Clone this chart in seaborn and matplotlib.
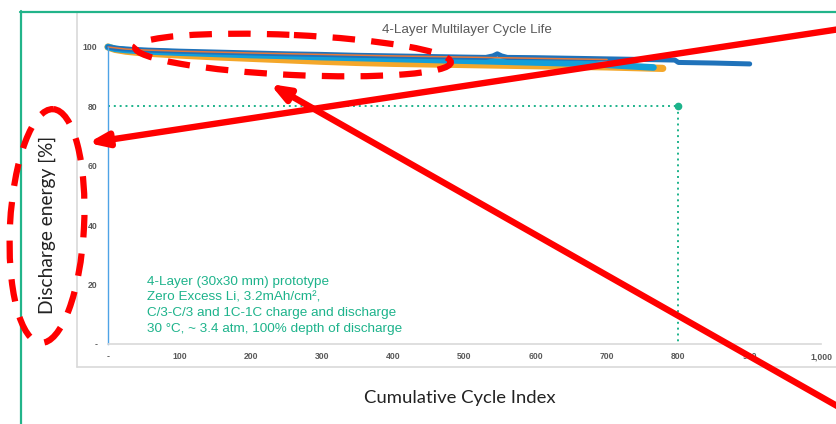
import matplotlib
matplotlib.use("Agg")
import matplotlib.pyplot as plt
import seaborn as sns
from matplotlib.patches import Ellipse, FancyArrowPatch, ArrowStyle
from matplotlib.lines import Line2D

# ---- cycle-life data: cumulative cycle index vs. discharge energy [%] ----
cell_a_cycles = [0, 10, 25, 50, 100, 150, 200, 250, 300, 350, 400, 450, 500, 550, 600, 650, 700, 778]
cell_a_energy = [100, 99.2, 98.6, 98.0, 97.3, 96.7, 96.2, 95.7, 95.2, 94.8, 94.5, 94.3, 94.1, 93.9, 93.7, 93.5, 93.3, 92.8]

cell_b_cycles = [0, 10, 25, 50, 100, 150, 200, 250, 300, 350, 400, 450, 500, 550, 600, 650, 700, 765]
cell_b_energy = [100, 99.4, 99.0, 98.6, 98.1, 97.7, 97.3, 97.0, 96.6, 96.3, 96.0, 95.7, 95.4, 95.1, 94.8, 94.5, 94.0, 93.1]

cell_c_cycles = [0, 10, 25, 50, 100, 150, 200, 250, 300, 350, 400, 450, 500, 530, 540, 546, 552, 560,
                 600, 650, 700, 750, 795, 800, 850, 900]
cell_c_energy = [100, 99.6, 99.3, 99.0, 98.6, 98.3, 98.0, 97.7, 97.5, 97.2, 97.0, 96.8, 96.6, 96.5, 97.0,
                 97.7, 97.0, 96.5, 96.4, 96.2, 96.0, 95.8, 95.6, 94.8, 94.6, 94.3]

cell_d_cycles = [0, 25, 50, 100, 200, 300, 400, 500, 600, 700]
cell_d_energy = [100, 99.3, 99.0, 98.6, 98.0, 97.5, 97.0, 96.6, 96.2, 95.8]

x_ticks = [0, 100, 200, 300, 400, 500, 600, 700, 800, 900, 1000]
x_tick_labels = ["-", "100", "200", "300", "400", "500", "600", "700", "800", "900", "1,000"]
y_ticks = [0, 20, 40, 60, 80, 100]
y_tick_labels = ["-", "20", "40", "60", "80", "100"]

eol_cycle = 800
eol_threshold = 80

title = "4-Layer Multilayer Cycle Life"
x_label = "Cumulative Cycle Index"
y_label = "Discharge energy [%]"
note_lines = [
    "4-Layer (30x30 mm) prototype",
    "Zero Excess Li, 3.2mAh/cm\u00b2,",
    "C/3-C/3 and 1C-1C charge and discharge",
    "30 \u00b0C, ~ 3.4 atm, 100% depth of discharge",
]

# ---- styling ----
sns.set_style("white")
plt.rcParams["font.family"] = ["Liberation Sans", "DejaVu Sans"]

W, H = 836, 424
fig = plt.figure(figsize=(W / 100, H / 100), dpi=100)
fig.patch.set_facecolor("white")

ax = fig.add_axes([108 / W, (H - 344) / H, 713 / W, 297 / H])
ax.set_facecolor("white")

series = [
    (cell_a_cycles, cell_a_energy, "#F4A72A", 5.2),
    (cell_b_cycles, cell_b_energy, "#139FD9", 4.8),
    (cell_c_cycles, cell_c_energy, "#1F72BA", 3.6),
    (cell_d_cycles, cell_d_energy, "#E8793A", 1.1),
]
for xs, ys, col, lw in series:
    sns.lineplot(x=xs, y=ys, ax=ax, color=col, lw=lw, estimator=None, sort=False,
                 solid_capstyle="round", solid_joinstyle="round", clip_on=False)

# end-of-life reference (80 % at 800 cycles)
teal = "#1DB38B"
dot_style = (0, (1, 2.0))
ax.plot([0, eol_cycle], [eol_threshold, eol_threshold], color=teal, lw=1.4, ls=dot_style)
ax.plot([eol_cycle, eol_cycle], [eol_threshold, 0], color=teal, lw=1.4, ls=dot_style)
ax.plot([eol_cycle], [eol_threshold], marker="o", ms=4.5, color=teal, clip_on=False)

ax.set_xlim(0, 1000)
ax.set_ylim(0, 100)
ax.set_xticks(x_ticks)
ax.set_xticklabels(x_tick_labels)
ax.set_yticks(y_ticks)
ax.set_yticklabels(y_tick_labels)
for lab in ax.get_xticklabels() + ax.get_yticklabels():
    lab.set_fontweight("bold")
    lab.set_fontsize(6.2)
    lab.set_color("#595959")
ax.tick_params(axis="x", direction="in", length=2.5, width=0.8, color="#D0D0D0", pad=6)
ax.tick_params(axis="y", direction="out", length=2.2, width=0.8, color="#3B7DC4", pad=5.5)

for s in ("top", "right"):
    ax.spines[s].set_visible(False)
ax.spines["left"].set_color("#4DA3E6")
ax.spines["left"].set_linewidth(1.0)
ax.spines["bottom"].set_color("#D9D9D9")
ax.spines["bottom"].set_linewidth(1.2)

ax.set_xlabel(x_label, family="Lato", fontsize=13.3, color="#222222")
ax.set_ylabel(y_label, family="Lato", fontsize=13.8, color="#222222")
ax.xaxis.label.set_va("center")
ax.yaxis.label.set_va("center")
ax.xaxis.set_label_coords((460 - 108) / 713, (344 - 398) / 297)
ax.yaxis.set_label_coords((47 - 108) / 713, (344 - 225) / 297)

# ---- overlay in pixel coordinates: frames, title, note, callouts ----
ov = fig.add_axes([0, 0, 1, 1], zorder=10)
ov.set_xlim(0, W)
ov.set_ylim(H, 0)
ov.axis("off")
ov.patch.set_alpha(0)

grey = "#D9D9D9"
ov.add_line(Line2D([77, 77], [12, 367], color=grey, lw=1.2))
ov.add_line(Line2D([77, W], [367, 367], color=grey, lw=1.2))
frame = "#22B48A"
ov.add_line(Line2D([20.5, 20.5], [11, H], color=frame, lw=1.6))
ov.add_line(Line2D([20, W], [11.5, 11.5], color=frame, lw=1.6))

ov.text(467, 33, title, ha="center", va="baseline", fontsize=9.6, color="#595959")

for i, line in enumerate(note_lines):
    ov.text(147, 284.5 + i * 15.8, line, ha="left", va="baseline", fontsize=9.7, color=teal)

red = "#FF0000"
dash = (0, (3.6, 2.6))
ov.add_patch(Ellipse((293, 55), 316, 40, angle=2.7, fill=False, ec=red, lw=4.5,
                     ls=dash, capstyle="butt", zorder=5))
ov.add_patch(Ellipse((47, 226), 74, 234, angle=3.0, fill=False, ec=red, lw=4.5,
                     ls=dash, capstyle="butt", zorder=5))

head = ArrowStyle("-|>", head_length=11, head_width=4.2)
for start, tip in [((860, 26), (88, 143)), ((860, 419), (270, 84))]:
    ov.add_patch(FancyArrowPatch(start, tip, arrowstyle=head, mutation_scale=1,
                                 lw=4.6, color=red, shrinkA=0, shrinkB=0, zorder=6))

fig.savefig("out.png", dpi=100, facecolor="white")
